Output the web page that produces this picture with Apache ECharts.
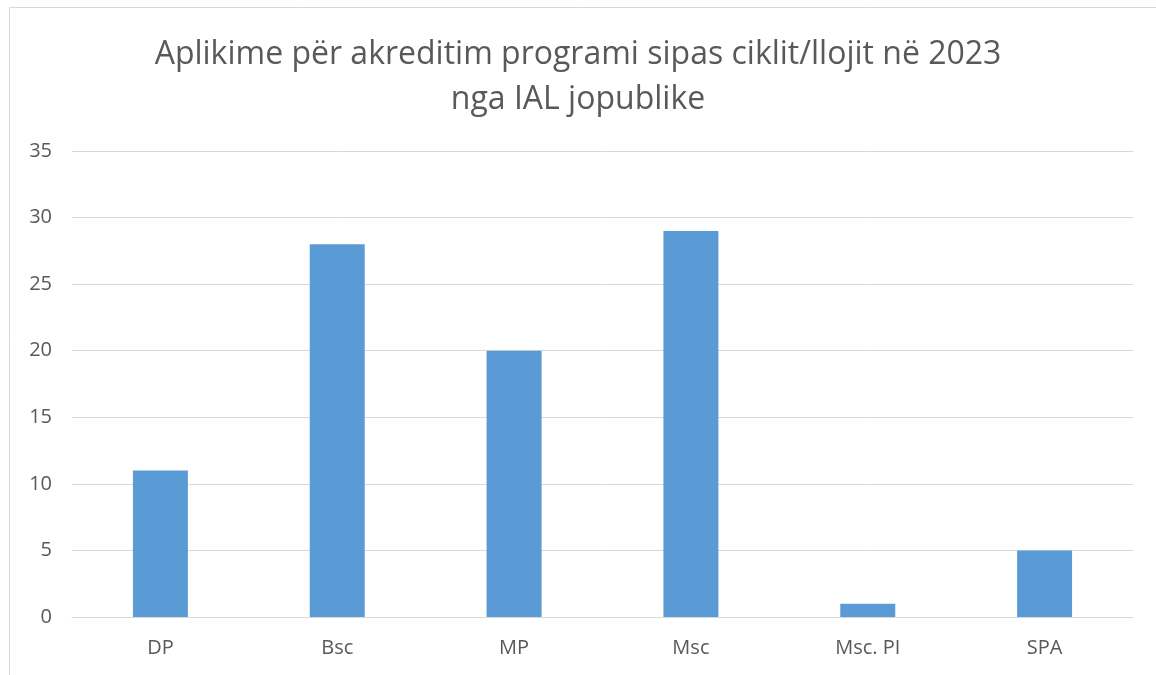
<!DOCTYPE html>
<html><head><meta charset="utf-8">
<script src="https://cdn.jsdelivr.net/npm/echarts@6/dist/echarts.min.js"></script>
<style>html,body{margin:0;padding:0;background:#fff;}#c{width:1156px;height:675px;}</style>
</head><body><div id="c"></div>
<script>
const categories = ['DP', 'Bsc', 'MP', 'Msc', 'Msc. PI', 'SPA'];
const values = [11, 28, 20, 29, 1, 5];
const titleText = 'Aplikime për akreditim programi sipas ciklit/llojit në 2023\nnga IAL jopublike';
const chart = echarts.init(document.getElementById('c'));
chart.setOption({
  animation: false,
  backgroundColor: '#fff',
  graphic: [{type:'rect', shape:{x:9.5,y:7.5,width:1160,height:680}, style:{fill:'none', stroke:'#d9d9d9', lineWidth:1}, silent:true}],
  title: {text: titleText, left: 'center', top: 27, textStyle:{fontFamily:'Open Sans', fontWeight:'normal', fontSize:32, color:'#595959', lineHeight:45}},
  grid: {left: 72, right: 23, top: 151, bottom: 58, containLabel:false},
  xAxis: {type:'category', data: categories, axisTick:{show:false}, axisLine:{lineStyle:{color:'#d9d9d9'}}, axisLabel:{color:'#595959', fontSize:20, margin:21, fontFamily:'Open Sans'}},
  yAxis: {type:'value', min:0, max:35, interval:5, axisLine:{show:false}, axisTick:{show:false}, splitLine:{lineStyle:{color:'#d9d9d9'}}, axisLabel:{color:'#595959', fontSize:20, margin:20, fontFamily:'Open Sans'}},
  series: [{type:'bar', data: values, barWidth:55, itemStyle:{color:'#5B9BD5'}}]
});
</script></body></html>
